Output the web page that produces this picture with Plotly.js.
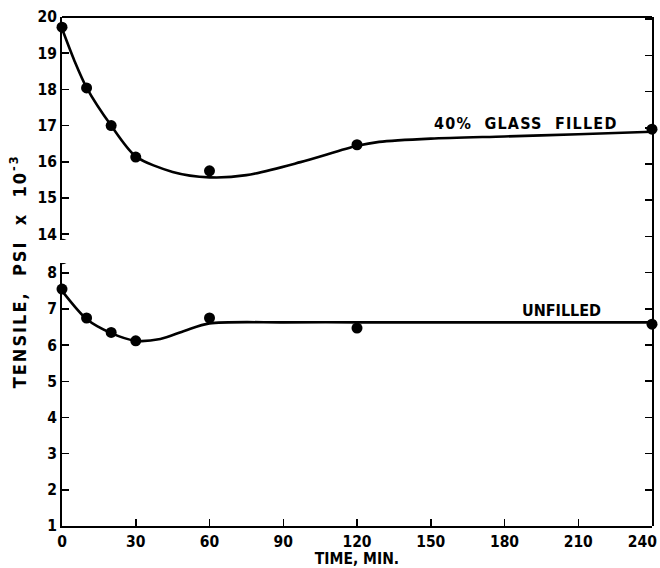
<!DOCTYPE html>
<html>
<head>
<meta charset="utf-8">
<script src="https://cdn.plot.ly/plotly-3.0.1.min.js"></script>
<style>
html,body{margin:0;padding:0;background:#fff;}
#chart{width:660px;height:568px;}
</style>
</head>
<body>
<div id="chart"></div>
<script>
// Measured points
const glassTime = [0, 10, 20, 30, 60, 120, 240];
const glassTensile = [19.72, 18.04, 17.0, 16.13, 15.75, 16.47, 16.9];
const unfilledTime = [0, 10, 20, 30, 60, 120, 240];
const unfilledTensile = [7.55, 6.75, 6.35, 6.12, 6.75, 6.47, 6.58];
// Hand-drawn fitted curves
const glassCurveTime = [0, 5, 10, 20, 30, 45, 60, 75, 97, 120, 129, 150, 180, 210, 240];
const glassCurveTensile = [19.68, 18.8, 18.05, 17.0, 16.15, 15.72, 15.57, 15.63, 15.99, 16.44, 16.55, 16.64, 16.7, 16.76, 16.83];
const unfilledCurveTime = [0, 10, 20, 30, 40, 50, 60, 90, 120, 180, 240];
const unfilledCurveTensile = [7.5, 6.72, 6.33, 6.12, 6.17, 6.4, 6.6, 6.63, 6.63, 6.63, 6.63];
const xTicks = [0, 30, 60, 90, 120, 150, 180, 210, 240];
const xTickText = ["0", "30", "60", "90", "120", "150", "180", "210", "240&nbsp;&nbsp;&nbsp;&nbsp;"];
const topTicks = [14, 15, 16, 17, 18, 19, 20];
const bottomTicks = [1, 2, 3, 4, 5, 6, 7, 8];
const glassLabel = "40%  GLASS  FILLED";
const unfilledLabel = "UNFILLED";
const xTitle = "TIME, MIN.";
const yTitle = "TENSILE,  PSI  x  10<sup>-3</sup>";

const FONT = "'DejaVu Sans Condensed', 'DejaVu Sans', sans-serif";
const tickFont = {family: FONT, size: 15.5, color: '#000', weight: 'bold'};

const lineStyle = {color: '#000', width: 2.6, shape: 'spline', smoothing: 0.8};
const markerStyle = {color: '#000', size: 11};

const traces = [
  {x: glassCurveTime, y: glassCurveTensile, xaxis: 'x', yaxis: 'y', mode: 'lines', line: lineStyle},
  {x: glassTime, y: glassTensile, xaxis: 'x', yaxis: 'y', mode: 'markers', marker: markerStyle, cliponaxis: false},
  {x: unfilledCurveTime, y: unfilledCurveTensile, xaxis: 'x', yaxis: 'y2', mode: 'lines', line: lineStyle},
  {x: unfilledTime, y: unfilledTensile, xaxis: 'x', yaxis: 'y2', mode: 'markers', marker: markerStyle, cliponaxis: false},
  {x: [], y: [], xaxis: 'x', yaxis: 'y3', mode: 'markers'}
];

const topDomain = [0.562, 1];
const botDomain = [0, 0.5167];

const layout = {
  width: 660, height: 568,
  margin: {l: 62, r: 8, t: 17, b: 42},
  paper_bgcolor: '#fff', plot_bgcolor: 'rgba(0,0,0,0)',
  showlegend: false,
  font: {family: FONT, color: '#000'},
  xaxis: {
    range: [0, 240], anchor: 'y2', tickvals: xTicks, ticktext: xTickText,
    ticks: 'inside', ticklen: 7, tickwidth: 1.5, tickcolor: '#000', ticklabeloverflow: 'allow',
    showline: true, linecolor: '#000', linewidth: 2, showgrid: false, zeroline: false,
    tickfont: tickFont,
    title: {text: xTitle, font: {family: FONT, size: 15.5, color: '#000', weight: 'bold'}, standoff: 6}
  },
  yaxis: {
    domain: topDomain, range: [13.84, 20], anchor: 'x', tickvals: topTicks,
    ticks: 'inside', ticklen: 7, tickwidth: 1.5, tickcolor: '#000',
    showline: true, linecolor: '#000', linewidth: 2, showgrid: false, zeroline: false,
    tickfont: tickFont
  },
  yaxis2: {
    domain: botDomain, range: [1, 8.27], anchor: 'x', tickvals: bottomTicks,
    ticks: 'inside', ticklen: 7, tickwidth: 1.5, tickcolor: '#000',
    showline: true, linecolor: '#000', linewidth: 2, showgrid: false, zeroline: false,
    tickfont: tickFont
  },
  yaxis3: {
    domain: [0, 1], range: [1, 15.06], anchor: 'x', side: 'right', dtick: 1,
    ticks: 'inside', ticklen: 7, tickwidth: 1.5, tickcolor: '#000', showticklabels: false,
    showline: true, linecolor: '#000', linewidth: 2, showgrid: false, zeroline: false
  },
  shapes: [
    {type: 'line', xref: 'paper', yref: 'paper', x0: 0, x1: 1, y0: 1, y1: 1, line: {color: '#000', width: 2}},
    {type: 'path', xref: 'x', yref: 'y', xsizemode: 'pixel', ysizemode: 'pixel', xanchor: 0, yanchor: 13.84,
     path: 'M -6,-2 Q 0,3 6,-2', line: {color: '#000', width: 1.5}},
    {type: 'path', xref: 'x', yref: 'y2', xsizemode: 'pixel', ysizemode: 'pixel', xanchor: 0, yanchor: 8.27,
     path: 'M -6,2 Q 0,-3 6,2', line: {color: '#000', width: 1.5}}
  ],
  annotations: [
    {x: 227, y: 17.05, xref: 'x', yref: 'y', text: '<span style="letter-spacing:1.2px">' + glassLabel + '</span>', showarrow: false, xanchor: 'right', yanchor: 'middle',
     font: {family: FONT, size: 16, color: '#000', weight: 'bold'}},
    {x: 220, y: 6.97, xref: 'x', yref: 'y2', text: unfilledLabel, showarrow: false, xanchor: 'right', yanchor: 'middle',
     font: {family: FONT, size: 16, color: '#000', weight: 'bold'}},
    {x: -0.075, y: 0.5, xref: 'paper', yref: 'paper', text: '<span style="letter-spacing:2px">' + yTitle + '</span>', showarrow: false, textangle: -90,
     xanchor: 'center', yanchor: 'middle', font: {family: FONT, size: 18, color: '#000', weight: 'bold'}}
  ]
};

Plotly.newPlot('chart', traces, layout, {displayModeBar: false, staticPlot: true});
</script>
</body>
</html>
